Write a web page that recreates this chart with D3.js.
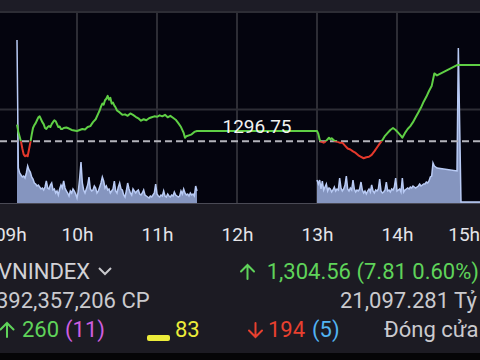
<!DOCTYPE html>
<html>
<head>
<meta charset="utf-8">
<script src="https://cdn.jsdelivr.net/npm/d3@7"></script>
<style>
  body { margin: 0; background: #1c1b23; }
  svg { display: block; font-family: Roboto, "Noto Sans", sans-serif; }
</style>
</head>
<body>
<svg id="chart" width="480" height="360"></svg>
<script>
// reference (previous close) and close
const refPrice = 1296.75;
const closePrice = 1304.56;

// intraday index
const priceTimes = [
  '09:15','09:16','09:17','09:18','09:19','09:20','09:21','09:22','09:23','09:24','09:25','09:26','09:27','09:28','09:29',
  '09:30','09:31','09:32','09:33','09:34','09:35','09:36','09:37','09:38','09:39','09:40','09:41','09:42','09:43','09:44',
  '09:45','09:46','09:47','09:48','09:49','09:50','09:52','09:54','09:56','09:58','10:00','10:02','10:04','10:06','10:08',
  '10:10','10:12','10:14','10:16','10:17','10:18','10:19','10:20','10:21','10:22','10:23','10:24','10:25','10:26','10:27',
  '10:28','10:29','10:30','10:32','10:34','10:36','10:38','10:40','10:42','10:44','10:46','10:48','10:50','10:52','10:54',
  '10:56','10:58','11:00','11:02','11:04','11:06','11:08','11:10','11:12','11:14','11:16','11:18','11:20','11:21','11:22',
  '11:24','11:26','11:28','11:30',
  '13:00','13:01','13:02','13:03','13:05','13:07','13:09','13:10','13:11','13:13','13:15','13:17','13:19','13:21','13:23',
  '13:25','13:27','13:29','13:31','13:33','13:35','13:37','13:39','13:41','13:43','13:45','13:47','13:49','13:51','13:53',
  '13:55','13:57','13:59','14:01','14:03','14:04','14:06','14:08','14:10','14:12','14:14','14:16','14:18','14:20','14:22',
  '14:24','14:26','14:28','14:30','14:45','15:03'
];
const priceValues = [
  1298.45,1297.7,1297.2,1296.7,1296.0,1295.4,1295.2,1295.3,1295.2,1295.9,1296.6,1297.4,1298.1,1298.4,1298.6,
  1298.9,1299.2,1299.3,1299.0,1298.7,1298.5,1298.1,1298.0,1298.2,1298.3,1298.2,1298.5,1298.7,1298.9,1298.8,
  1298.5,1298.2,1298.25,1298.0,1298.0,1298.1,1298.15,1298.05,1297.9,1297.85,1297.8,1297.9,1298.0,1297.95,1298.2,
  1298.3,1298.7,1299.0,1299.6,1299.9,1300.3,1300.6,1300.5,1300.95,1301.1,1301.4,1301.0,1301.2,1300.6,1300.7,
  1300.4,1300.2,1299.9,1299.7,1299.45,1299.5,1299.35,1299.6,1299.45,1299.25,1299.1,1298.85,1299.0,1298.9,1299.1,
  1299.2,1299.3,1299.25,1299.4,1299.3,1299.45,1299.2,1299.35,1299.15,1298.95,1298.6,1298.2,1297.6,1297.1,1297.25,
  1297.35,1297.45,1297.7,1297.8,
  1297.8,1297.5,1296.9,1296.7,1296.6,1296.8,1297.1,1296.95,1297.05,1296.8,1296.7,1296.6,1296.6,1296.3,1296.0,
  1295.9,1295.7,1295.55,1295.3,1295.15,1295.0,1295.1,1295.15,1295.35,1295.7,1296.1,1296.5,1296.85,1297.3,1297.6,
  1297.9,1298.1,1297.9,1297.6,1297.3,1297.1,1297.6,1298.0,1298.3,1298.7,1299.2,1299.7,1300.2,1300.8,1301.3,
  1301.9,1302.4,1303.7,1303.5,1304.56,1304.56
];

// volume per minute (relative units), null = lunch break
const volTimes = [
  '09:15','09:16','09:17','09:18','09:19','09:20','09:21','09:22','09:23','09:24','09:25','09:26','09:27','09:28','09:29',
  '09:30','09:31','09:32','09:33','09:34','09:35','09:36','09:37','09:38','09:39','09:40','09:41','09:42','09:43','09:44',
  '09:45','09:46','09:47','09:48','09:49','09:50','09:51','09:52','09:53','09:54','09:55','09:56','09:57','09:58','09:59',
  '10:00','10:01','10:02','10:03','10:04','10:05','10:06','10:07','10:08','10:09','10:10','10:11','10:12','10:13','10:14',
  '10:15','10:16','10:17','10:18','10:19','10:20','10:21','10:22','10:23','10:24','10:25','10:26','10:27','10:28','10:29',
  '10:30','10:31','10:32','10:33','10:34','10:35','10:36','10:37','10:38','10:39','10:40','10:41','10:42','10:43','10:44',
  '10:45','10:46','10:47','10:48','10:49','10:50','10:51','10:52','10:53','10:54','10:55','10:56','10:57','10:58','10:59',
  '11:00','11:01','11:02','11:03','11:04','11:05','11:06','11:07','11:08','11:09','11:10','11:11','11:12','11:13','11:14',
  '11:15','11:16','11:17','11:18','11:19','11:20','11:21','11:22','11:23','11:24','11:25','11:26','11:27','11:28','11:29',
  '11:30','12:15',
  '13:00','13:01','13:02','13:03','13:04','13:05','13:06','13:07','13:08','13:09','13:10','13:11','13:12','13:13','13:14',
  '13:15','13:16','13:17','13:18','13:19','13:20','13:21','13:22','13:23','13:24','13:25','13:26','13:27','13:28','13:29',
  '13:30','13:31','13:32','13:33','13:34','13:35','13:36','13:37','13:38','13:39','13:40','13:41','13:42','13:43','13:44',
  '13:45','13:46','13:47','13:48','13:49','13:50','13:51','13:52','13:53','13:54','13:55','13:56','13:57','13:58','13:59',
  '14:00','14:01','14:02','14:03','14:04','14:05','14:06','14:07','14:08','14:09','14:10','14:11','14:12','14:13','14:14',
  '14:15','14:16','14:17','14:18','14:19','14:20','14:21','14:22','14:23','14:24','14:25','14:26','14:27','14:28','14:29',
  '14:30','14:45','14:46','14:48','15:03'
];
const volValues = [
  163,35,30,28,26,27,25,30,37,33,31,26,24,20,19,
  17,18,16,14,15,13,16,22,15,14,18,20,13,14,10,
  12,8,14,18,15,22,15,12,10,7,12,10,14,12,9,
  5,12,25,41,20,13,10,14,18,26,14,12,13,17,15,
  10,12,16,20,26,22,15,17,13,14,10,12,14,22,12,
  10,16,20,14,13,8,6,12,20,14,10,8,14,12,10,
  12,13,9,8,10,13,8,7,6,5,7,6,8,10,19,
  9,7,6,8,7,12,7,6,9,7,6,8,7,11,8,
  7,6,7,12,9,14,10,8,9,7,10,8,9,7,17,
  12,null,
  23,19,23,14,22,13,16,19,12,15,14,11,13,16,12,
  14,13,25,15,12,14,18,27,14,12,15,13,23,14,11,
  13,12,14,21,13,10,12,9,12,14,11,18,12,10,13,
  12,14,24,12,10,11,13,21,12,13,11,14,13,16,25,
  12,13,14,11,25,11,13,14,15,14,16,15,17,16,15,
  16,17,19,17,18,19,19,21,20,22,26,27,40,37,36,
  35,32,155,1,1
];

const hourTicks = ['10:00','11:00','12:00','13:00','14:00'];
const levelTicks = [1300, 1310];
// time axis labels (the first and last sit at the chart ends)
const axisLabelTimes = ['09:10','10:00','11:00','12:00','13:00','14:00','14:50'];
const axisLabels = ['09h','10h','11h','12h','13h','14h','15h'];

const toMin = s => { const [h, m] = s.split(':').map(Number); return (h - 9) * 60 + m; };

const price = priceTimes.map((t, i) => ({ t: toMin(t), p: priceValues[i] }));
const vol = volTimes.map((t, i) => ({ t: toMin(t), v: volValues[i] }));

const W = 480, H = 360;
const plotTop = 12, plotBottom = 204;

const svg = d3.select('#chart');

const x = d3.scaleLinear().domain([0, 363]).range([-3, 481]);
const y = d3.scaleLinear().domain([1290, 1310]).range([207, 12]);
const yv = d3.scaleLinear().domain([0, 165]).range([203, 38]);

// backgrounds
svg.append('rect').attr('x', 0).attr('y', 0).attr('width', W).attr('height', plotTop).attr('fill', '#1d1c26');
svg.append('rect').attr('x', 0).attr('y', plotTop).attr('width', W).attr('height', plotBottom - plotTop).attr('fill', '#04040e');
svg.append('rect').attr('x', 0).attr('y', plotBottom).attr('width', W).attr('height', 149).attr('fill', '#1c1b23');
svg.append('rect').attr('x', 0).attr('y', 353).attr('width', W).attr('height', 7).attr('fill', '#050507');

// grid
svg.append('g')
  .selectAll('line')
  .data(hourTicks)
  .join('line')
  .attr('x1', d => x(toMin(d))).attr('x2', d => x(toMin(d)))
  .attr('y1', plotTop).attr('y2', plotBottom)
  .attr('stroke', '#2d2d35').attr('stroke-width', 2);

svg.append('g')
  .selectAll('line')
  .data(levelTicks)
  .join('line')
  .attr('x1', 0).attr('x2', W)
  .attr('y1', d => y(d)).attr('y2', d => y(d))
  .attr('stroke', '#2d2d35').attr('stroke-width', 2);

// volume
const area = d3.area()
  .defined(d => d.v != null)
  .x(d => x(d.t))
  .y0(yv(0))
  .y1(d => yv(d.v));
const volLine = d3.line()
  .defined(d => d.v != null)
  .x(d => x(d.t))
  .y(d => yv(d.v));

svg.append('path').datum(vol).attr('d', area).attr('fill', '#8595bf');
svg.append('path').datum(vol).attr('d', volLine)
  .attr('fill', 'none').attr('stroke', '#b9cbf5').attr('stroke-width', 1.5);

svg.append('line')
  .attr('x1', 0).attr('x2', W).attr('y1', plotBottom - 0.5).attr('y2', plotBottom - 0.5)
  .attr('stroke', '#4a4a55').attr('stroke-width', 1);

// reference line
svg.append('line')
  .attr('x1', 0).attr('x2', W)
  .attr('y1', y(refPrice)).attr('y2', y(refPrice))
  .attr('stroke', '#b4b4bc').attr('stroke-width', 2)
  .attr('stroke-dasharray', '7,4');

// price line, green above reference, red below
const defs = svg.append('defs');
defs.append('clipPath').attr('id', 'above')
  .append('rect').attr('x', 0).attr('y', 0).attr('width', W).attr('height', y(refPrice));
defs.append('clipPath').attr('id', 'below')
  .append('rect').attr('x', 0).attr('y', y(refPrice)).attr('width', W).attr('height', H);

const line = d3.line().x(d => x(d.t)).y(d => y(d.p));
svg.append('path').datum(price).attr('d', line)
  .attr('clip-path', 'url(#above)')
  .attr('fill', 'none').attr('stroke', '#5fcf45').attr('stroke-width', 2).attr('stroke-linejoin', 'round');
svg.append('path').datum(price).attr('d', line)
  .attr('clip-path', 'url(#below)')
  .attr('fill', 'none').attr('stroke', '#e5392c').attr('stroke-width', 2).attr('stroke-linejoin', 'round');

// reference label, centred in the lunch break
svg.append('text')
  .attr('x', x((toMin('11:30') + toMin('13:00')) / 2))
  .attr('y', y(refPrice) - 8)
  .attr('text-anchor', 'middle')
  .attr('fill', '#f2f2f2')
  .attr('font-size', 19)
  .text(d3.format('.2f')(refPrice));

// time axis
const xAxis = d3.axisBottom(x)
  .tickValues(axisLabelTimes.map(toMin))
  .tickFormat((d, i) => axisLabels[i])
  .tickSize(0)
  .tickPadding(0);
const gx = svg.append('g').attr('transform', 'translate(0,227)').call(xAxis);
gx.select('.domain').remove();
gx.selectAll('text')
  .attr('fill', '#e4e4e8')
  .attr('font-size', 19)
  .attr('font-family', 'Roboto, sans-serif');

// summary rows
const fmt = d3.format(',.2f');
const change = closePrice - refPrice;
const pct = change / refPrice * 100;

const info = svg.append('g').attr('font-size', 22);

// thin arrow icon, up or down
function arrow(cx, yTop, yBot, up, color) {
  const tip = up ? yTop : yBot, dir = up ? 1 : -1;
  info.append('path')
    .attr('d', `M${cx},${yTop}V${yBot}M${cx - 6.5},${tip + dir * 6.5}L${cx},${tip}L${cx + 6.5},${tip + dir * 6.5}`)
    .attr('fill', 'none').attr('stroke', color).attr('stroke-width', 2).attr('stroke-linecap', 'round');
}

info.append('text').attr('x', -2).attr('y', 279).attr('fill', '#d2d2d6').text('VNINDEX');
info.append('path').attr('d', 'M99,268 L105,274 L111,268')
  .attr('fill', 'none').attr('stroke', '#c8c8cc').attr('stroke-width', 2);

arrow(247.5, 265, 279, true, '#5fd35a');
info.append('text').attr('x', 479).attr('y', 279).attr('text-anchor', 'end').attr('fill', '#5fd35a')
  .text(fmt(closePrice) + ' (' + change.toFixed(2) + ' ' + pct.toFixed(2) + '%)');

info.append('text').attr('x', -4).attr('y', 308).attr('fill', '#cacace').text('392,357,206 CP');
info.append('text').attr('x', 340).attr('y', 308).attr('fill', '#cacace').text('21,097.281 Tỷ');

arrow(7, 323, 337, true, '#5fd35a');
info.append('text').attr('x', 22).attr('y', 337).attr('fill', '#5fd35a').text('260');
info.append('text').attr('x', 65).attr('y', 337).attr('fill', '#cf5ee0').text('(11)');
info.append('rect').attr('x', 147).attr('y', 335).attr('width', 23).attr('height', 6).attr('rx', 2).attr('fill', '#ecec3a');
info.append('text').attr('x', 175).attr('y', 337).attr('fill', '#ecec3a').text('83');
arrow(255.5, 323, 337, false, '#e8402f');
info.append('text').attr('x', 268).attr('y', 337).attr('fill', '#e8402f').text('194');
info.append('text').attr('x', 312).attr('y', 337).attr('fill', '#52b4f2').text('(5)');
info.append('text').attr('x', 384).attr('y', 337).attr('fill', '#cacace').text('Đóng cửa');
</script>
</body>
</html>
